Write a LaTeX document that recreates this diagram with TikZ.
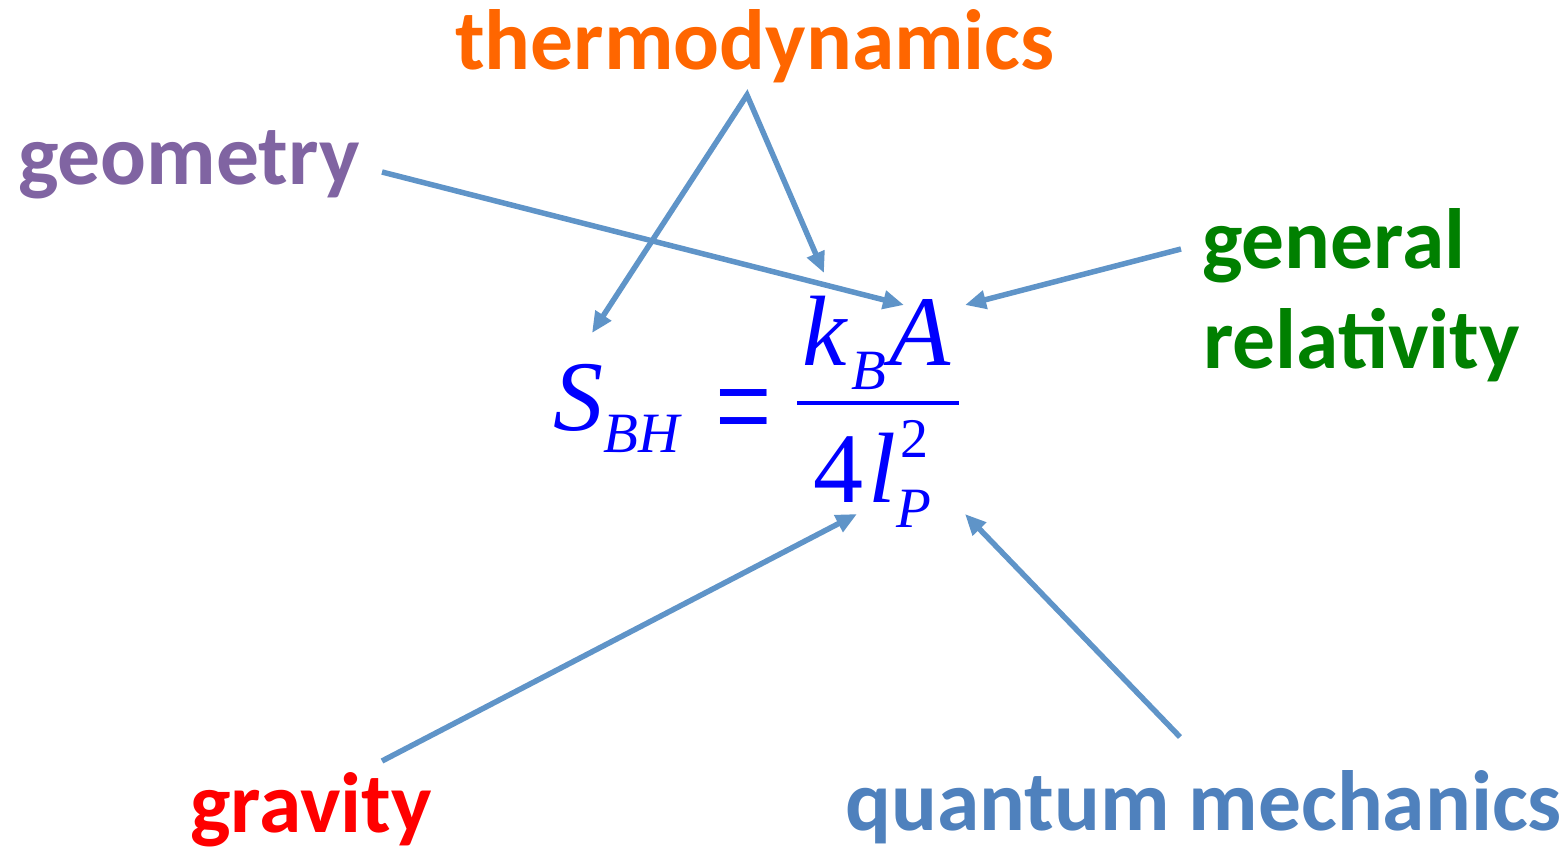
\documentclass[tikz,border=0pt]{standalone}
\usepackage{fontspec}
\usepackage{graphicx}
\usetikzlibrary{arrows.meta}
\newfontfamily\labfont{Carlito}
\newfontfamily\eqfont{Liberation Serif}
\definecolor{thermoc}{RGB}{255,102,0}
\definecolor{geomc}{RGB}{128,100,162}
\definecolor{grc}{RGB}{0,128,0}
\definecolor{gravc}{RGB}{255,0,0}
\definecolor{qmc}{RGB}{79,129,189}
\definecolor{eqc}{RGB}{0,0,255}
\definecolor{arrowc}{RGB}{95,148,200}
\tikzset{
  lab/.style={inner sep=0pt, anchor=base west, font=\labfont\bfseries\fontsize{85.5}{100}\selectfont},
  eqbig/.style={inner sep=0pt, anchor=base west, text=eqc, font=\eqfont\itshape\fontsize{100}{100}\selectfont},
  eqsub/.style={inner sep=0pt, anchor=base west, text=eqc, font=\eqfont\itshape\fontsize{57}{57}\selectfont},
  equp/.style={inner sep=0pt, anchor=base west, text=eqc, font=\eqfont\fontsize{100}{100}\selectfont},
  equpsub/.style={inner sep=0pt, anchor=base west, text=eqc, font=\eqfont\fontsize{56}{56}\selectfont},
  tip/.tip={Triangle[length=21pt,width=18pt]},
  conn/.style={draw=arrowc, line width=5.5pt, line join=miter, -tip},
}
\begin{document}
\begin{tikzpicture}[x=1pt,y=-1pt]
\useasboundingbox (0,0) rectangle (1565,847);
% labels
\node[lab, text=thermoc] (thermo) at (455,69) {thermodynamics};
\node[lab, text=geomc] (geom) at (18,184) {geometry};
\node[lab, text=grc] (gen) at (1202,268) {general};
\node[lab, text=grc] (rel) at (1203,368) {relativity};
\node[lab, text=gravc] (grav) at (190,832) {gravity};
\node[lab, text=qmc] (qm) at (845,830) {quantum mechanics};
% formula
\node[eqbig] (S) at (553,430) {S};
\node[eqsub] (BH) at (603,452) {BH};
\node[inner sep=0pt, anchor=north, text=eqc, font=\eqfont\fontsize{100}{100}\selectfont] (eq) at (744,389) {\scalebox{1}[1.4]{=}};
\node[eqbig] (k) at (802,365) {k};
\node[eqsub] (kB) at (851,389) {B};
\node[eqbig] (A) at (889,365) {A};
\draw[eqc, line width=4pt] (797,403) -- (959,403);
\node[equp] (four) at (813,502) {4};
\node[eqbig] (l) at (868,502) {l};
\node[equpsub] (two) at (900,457) {2};
\node[eqsub] (P) at (896,527) {P};
% connector end points
\coordinate (apex) at (747,95);
\coordinate (tS) at (592,333);
\coordinate (tA1) at (824,273);
\coordinate (gStart) at (382,172);
\coordinate (tA2) at (904,305);
\coordinate (grStart) at (1181,249);
\coordinate (tA3) at (965,305);
\coordinate (gvStart) at (382,761);
\coordinate (tD1) at (857,514);
\coordinate (qmStart) at (1180,737);
\coordinate (tD2) at (965,514);
% connectors
\draw[conn, tip-tip] (tS) -- (apex) -- (tA1);
\draw[conn] (gStart) -- (tA2);
\draw[conn] (grStart) -- (tA3);
\draw[conn] (gvStart) -- (tD1);
\draw[conn] (qmStart) -- (tD2);
\end{tikzpicture}
\end{document}
